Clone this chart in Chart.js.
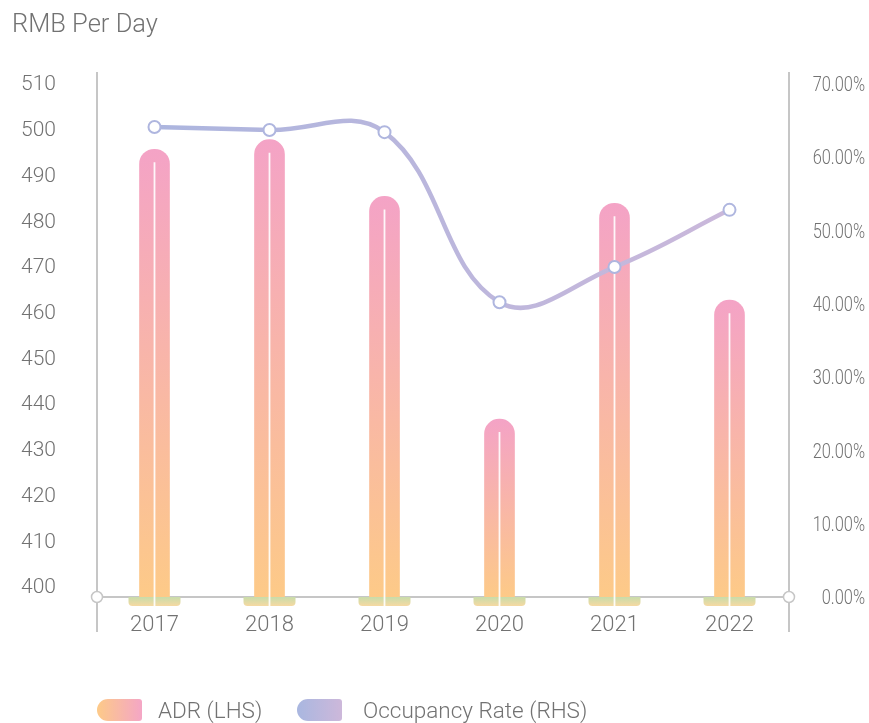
<!DOCTYPE html>
<html>
<head>
<meta charset="utf-8">
<script src="https://cdn.jsdelivr.net/npm/chart.js@4/dist/chart.umd.min.js"></script>
<style>
  body { margin: 0; background: #fff; }
  #wrap { position: relative; width: 869px; height: 723px; }
  #title {
    position: absolute; left: 12px; top: 8px;
    font: 300 25.5px Roboto, "Noto Sans", sans-serif; color: #727272;
  }
  .item {
    position: absolute; top: 699px; height: 22px;
    font: 300 22.5px Roboto, "Noto Sans", sans-serif; color: #727272;
  }
  .sw { position: absolute; left: 0; top: 0; width: 45px; height: 22px; border-radius: 11px 3px 3px 11px; }
  .item span { position: absolute; top: -2px; white-space: nowrap; }
</style>
</head>
<body>
<div id="wrap">
  <canvas id="grafico"></canvas>
  <div id="title">RMB Per Day</div>
</div>
<script>
const years = ["2017", "2018", "2019", "2020", "2021", "2022"];
const adr = [495.3, 497.4, 485.0, 436.3, 483.5, 462.3];
const occupancy = [64.1, 63.7, 63.4, 40.2, 45.0, 52.8];
const adrTicks = [400, 410, 420, 430, 440, 450, 460, 470, 480, 490, 500, 510];
const occTicks = [0, 10, 20, 30, 40, 50, 60, 70];

const labelFont = { family: "Roboto", size: 21, weight: "300" };
const gris = "#727272";
const ejeColor = "#c6c6c6";

// degradado vertical de cada barra: rosa arriba, naranja abajo
function barGradient(c) {
    const chart = c.chart;
    const area = chart.chartArea;
    if (!area || c.raw === undefined) return "#f8b5a8";
    const top = chart.scales.y.getPixelForValue(c.raw);
    const g = chart.ctx.createLinearGradient(0, top, 0, area.bottom);
    g.addColorStop(0, "#f4a3c6");
    g.addColorStop(1, "#fdca88");
    return g;
}

function lineGradient(c) {
    const area = c.chart.chartArea;
    if (!area) return "#b8b6dd";
    const g = c.chart.ctx.createLinearGradient(area.left, 0, area.right, 0);
    g.addColorStop(0, "#a9b5df");
    g.addColorStop(1, "#cdb8da");
    return g;
}

// ejes, bases de las barras, divisiones blancas y etiquetas del eje derecho
const decoracion = {
    id: "decoracion",
    beforeDatasetsDraw(chart) {
        const { ctx, chartArea: a } = chart;
        const xr = a.right + 2;
        ctx.save();
        ctx.strokeStyle = ejeColor;
        ctx.lineWidth = 2;
        ctx.beginPath();
        ctx.moveTo(a.left, a.top); ctx.lineTo(a.left, a.bottom + 35);
        ctx.moveTo(xr, a.top); ctx.lineTo(xr, a.bottom + 35);
        ctx.moveTo(a.left, a.bottom); ctx.lineTo(xr, a.bottom);
        ctx.stroke();

        // base verde/amarilla bajo cada barra
        chart.getDatasetMeta(0).data.forEach((bar) => {
            const x = bar.x, b = a.bottom;
            const g = ctx.createLinearGradient(0, b, 0, b + 9);
            g.addColorStop(0, "#c8dcaa");
            g.addColorStop(1, "#f6d9a2");
            ctx.fillStyle = g;
            ctx.beginPath();
            ctx.moveTo(x - 26, b);
            ctx.lineTo(x + 26, b);
            ctx.lineTo(x + 26, b + 5);
            ctx.quadraticCurveTo(x + 26, b + 9, x + 22, b + 9);
            ctx.lineTo(x - 22, b + 9);
            ctx.quadraticCurveTo(x - 26, b + 9, x - 26, b + 5);
            ctx.closePath();
            ctx.fill();
        });
        ctx.restore();
    },
    afterDatasetDraw(chart, args) {
        if (args.index !== 0) return;
        const { ctx } = chart;
        ctx.save();
        args.meta.data.forEach((bar) => {
            const x = bar.x, base = bar.base;
            ctx.strokeStyle = "rgba(255,255,255,0.9)";
            ctx.lineWidth = 1.8;
            ctx.beginPath();
            ctx.moveTo(x, bar.y + 13);
            ctx.lineTo(x, base);
            ctx.stroke();
            ctx.fillStyle = "#ffffff";
            ctx.beginPath();
            ctx.arc(x, base, 3, 0, Math.PI * 2);
            ctx.fill();
        });
        ctx.restore();
    },
    afterDatasetsDraw(chart) {
        const { ctx, chartArea: a } = chart;
        ctx.save();
        ctx.fillStyle = "#ffffff";
        ctx.strokeStyle = ejeColor;
        ctx.lineWidth = 1.5;
        [a.left, a.right + 2].forEach((x) => {
            ctx.beginPath();
            ctx.arc(x, a.bottom, 5.5, 0, Math.PI * 2);
            ctx.fill();
            ctx.stroke();
        });

        // etiquetas del eje derecho, en letra estrecha
        const s = chart.scales.y1;
        ctx.fillStyle = gris;
        ctx.font = "300 21px Roboto";
        ctx.textAlign = "right";
        ctx.textBaseline = "middle";
        occTicks.forEach((v) => {
            ctx.save();
            ctx.translate(865, s.getPixelForValue(v) + 2);
            ctx.scale(0.78, 1);
            ctx.fillText(v.toFixed(2) + "%", 0, 0);
            ctx.restore();
        });
        ctx.restore();
    },
};

const ctxGrafico = document.getElementById("grafico").getContext("2d");

new Chart(ctxGrafico, {
    type: "bar",
    data: {
        labels: years,
        datasets: [
            {
                label: "ADR (LHS)",
                data: adr,
                yAxisID: "y",
                order: 1,
                backgroundColor: barGradient,
                barThickness: 30,
                borderRadius: { topLeft: 15, topRight: 15, bottomLeft: 0, bottomRight: 0 },
                borderSkipped: "start",
            },
            {
                type: "line",
                label: "Occupancy Rate (RHS)",
                data: occupancy,
                yAxisID: "y1",
                order: 0,
                borderColor: lineGradient,
                borderWidth: 4.5,
                tension: 0.4,
                pointRadius: 6,
                pointBorderWidth: 2,
                pointBackgroundColor: "#ffffff",
                pointBorderColor: "#afb6df",
                clip: false,
            },
        ],
    },
    options: {
        responsive: true,
        maintainAspectRatio: false,
        animation: false,
        layout: { padding: { top: 72, left: 0, right: 0, bottom: 0 } },
        plugins: {
            legend: { display: false },
            tooltip: { enabled: false },
        },
        scales: {
            x: {
                grid: { display: false, drawTicks: false },
                border: { display: false },
                ticks: { color: gris, font: { family: "Roboto", size: 22, weight: "300" }, padding: 15 },
                afterFit: (s) => { s.height = 126; },
            },
            y: {
                position: "left",
                min: 397.4,
                max: 512.2,
                grid: { display: false, drawTicks: false },
                border: { display: false },
                ticks: { color: gris, font: labelFont, padding: 41, labelOffset: 3 },
                afterBuildTicks: (s) => { s.ticks = adrTicks.map((v) => ({ value: v })); },
                afterFit: (s) => { s.width = 97; },
            },
            y1: {
                position: "right",
                min: 0,
                max: 71.6,
                grid: { display: false, drawTicks: false },
                border: { display: false },
                ticks: { display: false },
                afterBuildTicks: (s) => { s.ticks = occTicks.map((v) => ({ value: v })); },
                afterFit: (s) => { s.width = 82; },
            },
        },
    },
    plugins: [decoracion],
});

// leyenda
const legendNames = ["ADR (LHS)", "Occupancy Rate (RHS)"];
const swatches = [
    "linear-gradient(to right, #fdca88, #f4a6c6)",
    "linear-gradient(to right, #a9b7e0, #cdb8da)",
];
const legendLeft = [97, 297];
const legendTextOffset = [61, 66];
const wrap = document.getElementById("wrap");
legendNames.forEach((name, i) => {
    const item = document.createElement("div");
    item.className = "item";
    item.style.left = legendLeft[i] + "px";
    const sw = document.createElement("div");
    sw.className = "sw";
    sw.style.background = swatches[i];
    const txt = document.createElement("span");
    txt.style.left = legendTextOffset[i] + "px";
    txt.textContent = name;
    item.appendChild(sw);
    item.appendChild(txt);
    wrap.appendChild(item);
});
</script>
</body>
</html>
